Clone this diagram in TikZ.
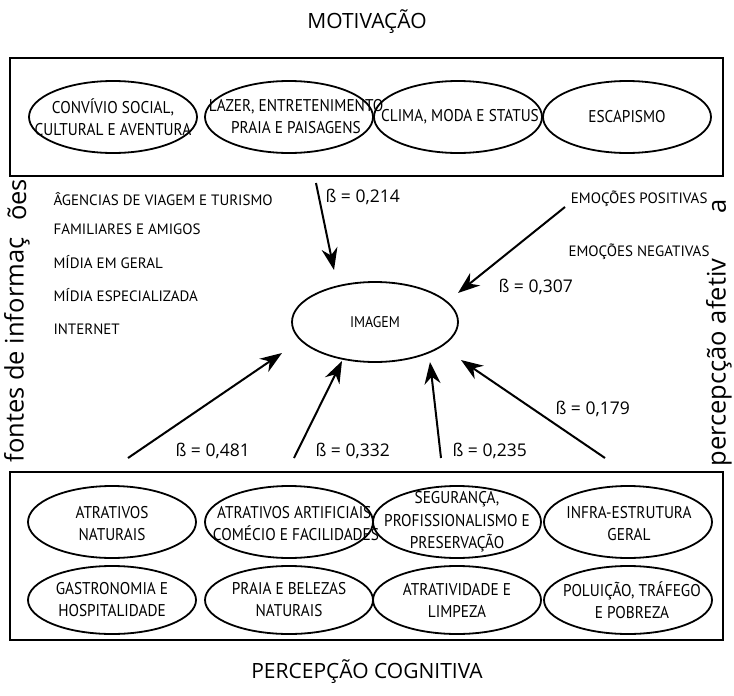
\documentclass[tikz,border=0pt]{standalone}
\usepackage{fontspec}
\setmainfont{Open Sans}
\newfontfamily\boxfont{PT Sans}
\newfontfamily\narrowfont{PT Sans}[FakeStretch=0.9]
\usetikzlibrary{arrows.meta,shapes.geometric}
\begin{document}
\begin{tikzpicture}[x=1pt,y=-1pt,
  frame/.style={draw,line width=2pt},
  oval/.style={draw,ellipse,line width=1.8pt,minimum width=168pt,minimum height=72pt,inner sep=0pt},
  lbl/.style={font=\narrowfont\fontsize{17}{22}\selectfont,align=center},
  src/.style={font=\boxfont\fontsize{15}{17}\selectfont,anchor=west},
  big/.style={font=\fontsize{21}{24}\selectfont},
  side/.style={font=\fontsize{25.5}{28}\selectfont,rotate=90},
  beta/.style={font=\fontsize{17.5}{20}\selectfont},
  link/.style={line width=2pt,-{Stealth[length=22pt,width=16pt]}}]
\useasboundingbox (0,0) rectangle (734,696);

% titles
\node[big] (tmot) at (367,22) {MOTIVAÇÃO};
\node[big] (tcog) at (367,672) {PERCEPÇÃO COGNITIVA};

% motivation frame and its factors
\draw[frame] (10,58) rectangle (723,176);
\node[oval] (m1) at (113,117) {};
\node[lbl] at (113,117) {CONVÍVIO SOCIAL,\\CULTURAL E AVENTURA};
\node[oval] (m2) at (289,117) {};
\node[lbl] at (296,117) {LAZER, ENTRETENIMENTO\\PRAIA E PAISAGENS};
\node[oval] (m3) at (458,117) {};
\node[lbl] at (460,117) {CLIMA, MODA E STATUS};
\node[oval] (m4) at (627,117) {};
\node[lbl] at (627,117) {ESCAPISMO};

% cognitive frame and its factors
\draw[frame] (10,472) rectangle (723,640);
\node[oval] (c1) at (112,522) {};
\node[lbl] at (112,524) {ATRATIVOS\\NATURAIS};
\node[oval] (c2) at (289,522) {};
\node[lbl] at (296,524) {ATRATIVOS ARTIFICIAIS,\\COMÉCIO E FACILIDADES};
\node[oval] (c3) at (457,522) {};
\node[lbl,font=\narrowfont\fontsize{17}{22.5}\selectfont] at (457,522) {SEGURANÇA,\\PROFISSIONALISMO E\\PRESERVAÇÃO};
\node[oval] (c4) at (628,522) {};
\node[lbl] at (629,524) {INFRA-ESTRUTURA\\GERAL};
\node[oval,minimum height=68pt] (c5) at (112,600) {};
\node[lbl] at (112,600) {GASTRONOMIA E\\HOSPITALIDADE};
\node[oval,minimum height=68pt] (c6) at (289,600) {};
\node[lbl] at (289,600) {PRAIA E BELEZAS\\NATURAIS};
\node[oval,minimum height=68pt] (c7) at (457,600) {};
\node[lbl] at (457,600) {ATRATIVIDADE E\\LIMPEZA};
\node[oval,minimum height=68pt] (c8) at (628,600) {};
\node[lbl] at (632,600) {POLUIÇÃO, TRÁFEGO\\E POBREZA};

% central construct
\node[draw,ellipse,line width=1.8pt,minimum width=166pt,minimum height=80pt,
      font=\narrowfont\fontsize{15.5}{18}\selectfont] (img) at (375,322) {IMAGEM};

% information sources
\node[side,anchor=west] (fa) at (17,466) {fontes de informaç};
\node[side] (fb) at (17,200) {ões};
\node[src] (s1) at (50,199) {ÂGENCIAS DE VIAGEM E TURISMO};
\node[src] (s2) at (50,229) {FAMILIARES E AMIGOS};
\node[src] (s3) at (50,262) {MÍDIA EM GERAL};
\node[src] (s4) at (50,295) {MÍDIA ESPECIALIZADA};
\node[src] (s5) at (50,329) {INTERNET};

% affective perception
\node[side,anchor=west] (pa) at (719,470) {percepcção afetiv};
\node[side] (pb) at (719,206) {a};
\node[src,anchor=east] (e1) at (711,199) {EMOÇÕES POSITIVAS};
\node[src,anchor=east] (e2) at (713,252) {EMOÇÕES NEGATIVAS};

% path coefficients
\coordinate (a1s) at (316,183); \coordinate (a1e) at (334,270);
\coordinate (a2s) at (565,207); \coordinate (a2e) at (458,293);
\coordinate (a3s) at (128,458); \coordinate (a3e) at (282,353);
\coordinate (a4s) at (294,458); \coordinate (a4e) at (342,361);
\coordinate (a5s) at (441,458); \coordinate (a5e) at (430,362);
\coordinate (a6s) at (605,458); \coordinate (a6e) at (461,360);
\draw[link] (a1s) -- (a1e);
\draw[link] (a2s) -- (a2e);
\draw[link] (a3s) -- (a3e);
\draw[link] (a4s) -- (a4e);
\draw[link] (a5s) -- (a5e);
\draw[link] (a6s) -- (a6e);
\node[beta,anchor=west] (b1) at (322,197) {ß = 0,214};
\node[beta,anchor=west] (b2) at (495,287) {ß = 0,307};
\node[beta,anchor=west] (b3) at (172,451) {ß = 0,481};
\node[beta,anchor=west] (b4) at (312,451) {ß = 0,332};
\node[beta,anchor=west] (b5) at (449,451) {ß = 0,235};
\node[beta,anchor=west] (b6) at (552,409) {ß = 0,179};
\end{tikzpicture}
\end{document}
